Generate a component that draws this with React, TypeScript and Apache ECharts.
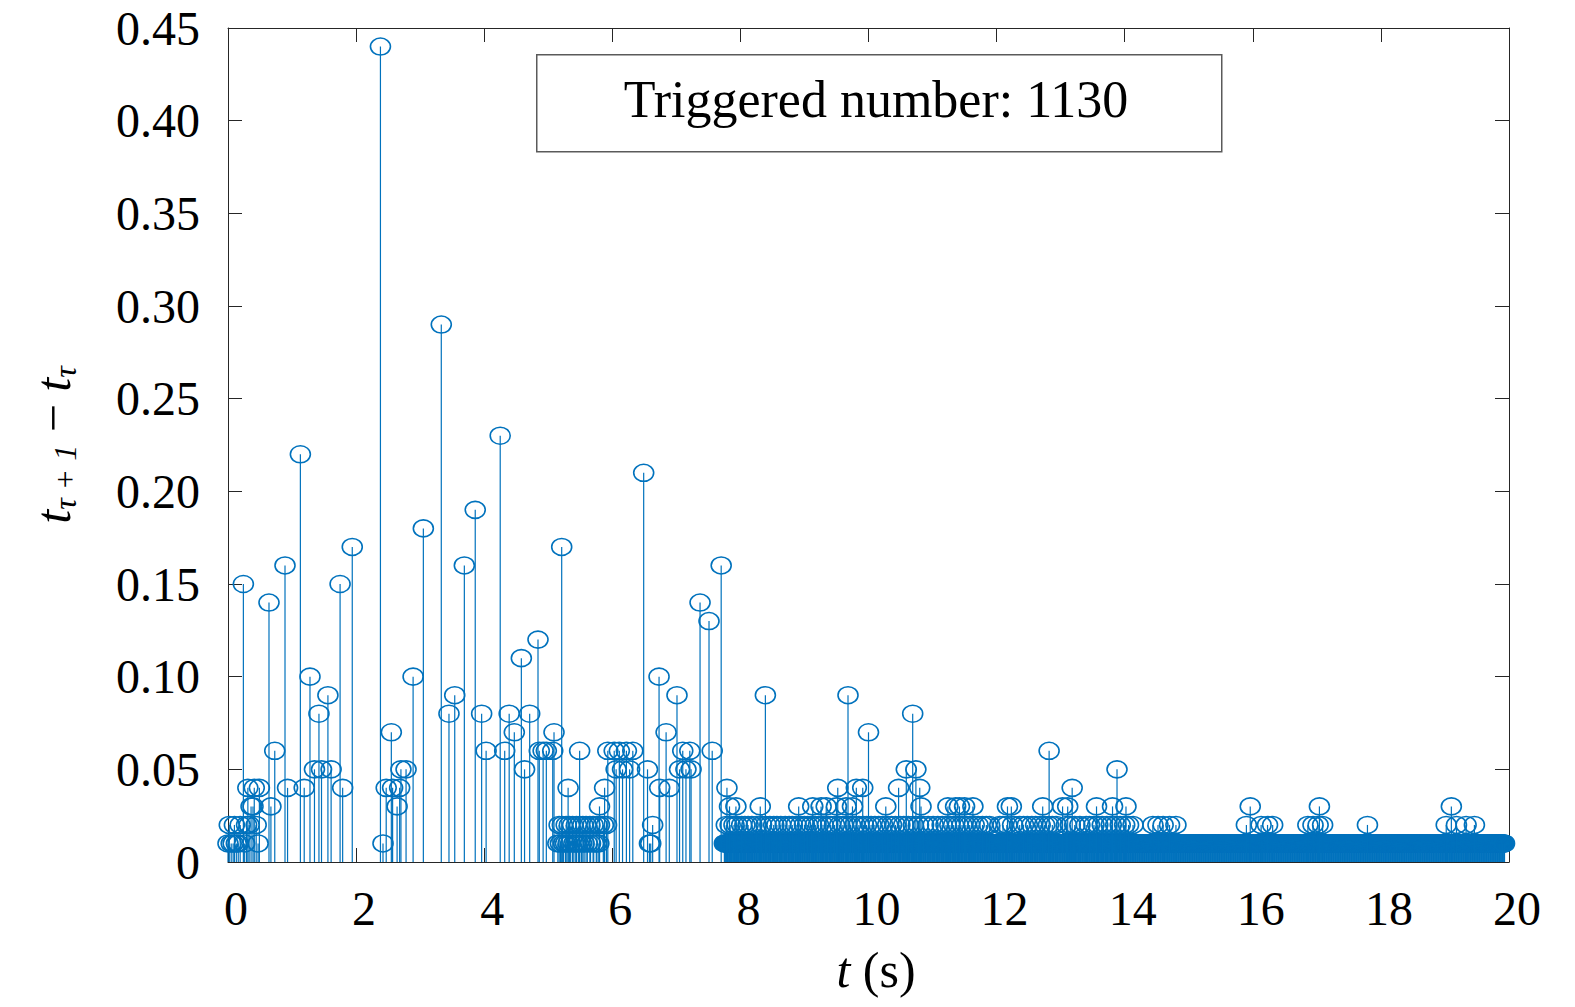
import { useEffect, useRef } from 'react';
import * as echarts from 'echarts';

const SERIF = '"Liberation Serif", "Times New Roman", serif';
const BLUE = '#0072BD';
const INK = '#262626';

/* ───── Data ───── */
// sparse stems: trigger time t (s) and interval t_{τ+1} - t_τ (s)
const stemT = [
  0.00, 0.02, 0.05, 0.08, 0.10, 0.13, 0.16, 0.19, 0.24, 0.26, 0.29, 0.31, 0.33, 0.36, 0.39, 0.41, 0.44, 0.47, 0.49,
  0.64, 0.67, 0.73, 0.89, 0.93, 1.13, 1.19, 1.28, 1.35, 1.42, 1.46, 1.56, 1.61, 1.75, 1.79, 1.94,
  2.38, 2.42, 2.47, 2.55, 2.57, 2.64, 2.68, 2.70, 2.78, 2.89, 3.05, 3.33, 3.45, 3.54, 3.69, 3.86, 3.96,
  4.03, 4.25, 4.32, 4.39, 4.47, 4.58, 4.63, 4.71, 4.84, 4.86, 4.92, 4.97, 5.07, 5.09, 5.21, 5.31, 5.49,
  5.80, 5.88, 5.93, 6.03, 6.06, 6.11, 6.16, 6.22, 6.27, 6.32, 6.49, 6.55, 6.58, 6.60, 6.63, 6.73, 6.74,
  6.84, 6.89, 7.01, 7.05, 7.10, 7.15, 7.21, 7.23, 7.37, 7.51, 7.56, 7.70, 7.79, 7.83, 7.93,
  8.31, 8.39, 8.91, 9.13, 9.26, 9.34, 9.50, 9.52, 9.65, 9.68, 9.75, 9.81, 9.91, 10.00, 10.27, 10.47,
  10.59, 10.69, 10.74, 10.80, 10.82, 11.24, 11.36, 11.42, 11.50, 11.63, 12.17, 12.23, 12.72, 12.82,
  13.03, 13.11, 13.18, 13.56, 13.81, 13.88, 14.02, 15.96, 17.04, 19.10,
];
const stemV = [
  0.01, 0.02, 0.01, 0.01, 0.02, 0.01, 0.01, 0.02, 0.15, 0.01, 0.02, 0.04, 0.02, 0.03, 0.03, 0.04, 0.02, 0.01, 0.04,
  0.14, 0.03, 0.06, 0.16, 0.04, 0.22, 0.04, 0.10, 0.05, 0.08, 0.05, 0.09, 0.05, 0.15, 0.04, 0.17,
  0.44, 0.01, 0.04, 0.07, 0.04, 0.03, 0.04, 0.05, 0.05, 0.10, 0.18, 0.29, 0.08, 0.09, 0.16, 0.19, 0.08,
  0.06, 0.23, 0.06, 0.08, 0.07, 0.11, 0.05, 0.08, 0.12, 0.06, 0.06, 0.06, 0.06, 0.07, 0.17, 0.04, 0.06,
  0.03, 0.04, 0.06, 0.06, 0.05, 0.06, 0.05, 0.06, 0.05, 0.06, 0.21, 0.05, 0.01, 0.01, 0.02, 0.10, 0.04,
  0.07, 0.04, 0.09, 0.05, 0.06, 0.05, 0.06, 0.05, 0.14, 0.13, 0.06, 0.16, 0.04, 0.03, 0.03,
  0.03, 0.09, 0.03, 0.03, 0.03, 0.03, 0.03, 0.04, 0.03, 0.09, 0.03, 0.04, 0.04, 0.07, 0.03, 0.04,
  0.05, 0.08, 0.05, 0.04, 0.03, 0.03, 0.03, 0.03, 0.03, 0.03, 0.03, 0.03, 0.03, 0.06,
  0.03, 0.03, 0.04, 0.03, 0.03, 0.05, 0.03, 0.03, 0.03, 0.03,
];

// triggers with a 0.02 s interval
const t002 = [
  5.17, 5.22, 5.28, 5.33, 5.38, 5.44, 5.49, 5.54, 5.59, 5.65, 5.70, 5.76, 5.80, 5.86, 5.91,
  7.78, 7.84, 7.90, 7.95, 8.02, 8.07, 8.12, 8.18, 8.25, 8.33, 8.40, 8.46, 8.52, 8.57, 8.63, 8.70,
  8.76, 8.81, 8.87, 8.94, 9.00, 9.05, 9.11, 9.17, 9.22, 9.29, 9.36, 9.41, 9.47, 9.55, 9.60, 9.66,
  9.72, 9.79, 9.85, 9.92, 9.97, 10.04, 10.10, 10.16, 10.22, 10.30, 10.36, 10.42, 10.49, 10.55, 10.62,
  10.70, 10.78, 10.86, 10.93, 11.01, 11.08, 11.15, 11.21, 11.27, 11.33, 11.40, 11.46, 11.52, 11.58,
  11.65, 11.71, 11.78, 11.84, 11.89, 12.05, 12.10, 12.16, 12.25, 12.36, 12.42, 12.48, 12.55, 12.61,
  12.68, 12.75, 12.81, 12.87, 12.93, 13.09, 13.15, 13.22, 13.30, 13.40, 13.45, 13.52, 13.58, 13.65,
  13.72, 13.79, 13.86, 13.93, 14.00, 14.06, 14.13, 14.44, 14.52, 14.60, 14.70, 14.80,
  15.90, 16.13, 16.23, 16.31, 16.86, 16.94, 17.02, 17.09, 17.79, 19.02, 19.18, 19.33, 19.46,
];

// triggers with a 0.01 s interval in the 5.2–5.8 s cluster
const t001 = [
  5.15, 5.19, 5.24, 5.27, 5.31, 5.35, 5.40, 5.43, 5.47, 5.52, 5.56, 5.61, 5.66, 5.71, 5.75, 5.79,
];

// continuous runs of 0.01 s intervals (the solid band)
const runStart = [7.75];
const runEnd = [19.93];
const runGap = [0.01];

export default function App() {
  const ref = useRef<HTMLDivElement>(null);

  useEffect(() => {
    if (!ref.current) return;
    const chart = echarts.init(ref.current, undefined, { renderer: 'svg' });

    const points: [number, number][] = [];
    runStart.forEach((s, i) => {
      const n = Math.round((runEnd[i] - s) / runGap[i]);
      for (let k = 0; k <= n; k++) points.push([+(s + k * runGap[i]).toFixed(2), runGap[i]]);
    });
    t001.forEach(t => points.push([t, 0.01]));
    t002.forEach(t => points.push([t, 0.02]));
    stemT.forEach((t, i) => points.push([t, stemV[i]]));

    const axisCommon = {
      axisLine: { show: true, onZero: false, lineStyle: { color: INK, width: 1 } },
      axisTick: { show: true, inside: true, length: 14, lineStyle: { color: INK, width: 1 } },
      splitLine: { show: false },
    };

    chart.setOption({
      animation: false,
      grid: { left: 228, right: 66, top: 28, bottom: 145, containLabel: false },
      xAxis: [
        {
          type: 'value', min: 0, max: 20, interval: 2, position: 'bottom', ...axisCommon,
          axisLabel: { fontFamily: SERIF, fontSize: 48, color: '#000', margin: 22, padding: [0, 0, 0, 16] },
        },
        {
          type: 'value', min: 0, max: 20, interval: 2, position: 'top', ...axisCommon,
          axisLabel: { show: false },
        },
      ],
      yAxis: [
        {
          type: 'value', min: 0, max: 0.45, interval: 0.05, position: 'left', ...axisCommon,
          axisLabel: {
            fontFamily: SERIF, fontSize: 48, color: '#000', margin: 28,
            formatter: (v: number) => (v === 0 ? '0' : v.toFixed(2)),
          },
        },
        {
          type: 'value', min: 0, max: 0.45, interval: 0.05, position: 'right', ...axisCommon,
          axisLabel: { show: false },
        },
      ],
      series: [
        {
          type: 'custom',
          clip: false,
          data: points,
          renderItem: (_params: any, api: any) => {
            const top = api.coord([api.value(0), api.value(1)]);
            const base = api.coord([api.value(0), 0]);
            return {
              type: 'group',
              children: [
                { type: 'line', shape: { x1: top[0], y1: base[1], x2: top[0], y2: top[1] }, style: { stroke: BLUE, lineWidth: 1.2 } },
                { type: 'ellipse', shape: { cx: top[0], cy: top[1], rx: 10, ry: 8.5 }, style: { fill: 'none', stroke: BLUE, lineWidth: 1.6 } },
              ],
            };
          },
        },
      ],
      graphic: [
        {
          type: 'rect', left: 536, top: 54, z: 10,
          shape: { width: 685, height: 97 },
          style: { fill: '#fff', stroke: '#5a5a5a', lineWidth: 1.5 },
        },
        {
          type: 'text', x: 876, y: 99, z: 11,
          style: { text: 'Triggered number: 1130', font: `52px ${SERIF}`, fill: '#000', align: 'center', verticalAlign: 'middle' },
        },
        {
          type: 'text', x: 876, y: 970,
          style: {
            text: '{i|t} (s)', align: 'center', verticalAlign: 'middle',
            font: `50px ${SERIF}`, fill: '#000',
            rich: { i: { fontFamily: SERIF, fontSize: 50, fontStyle: 'italic' } },
          },
        },
        {
          type: 'text', x: 53, y: 445, rotation: Math.PI / 2,
          style: {
            text: '{i|t}{s|τ + 1}{n| − }{i|t}{s|τ}', align: 'center', verticalAlign: 'middle',
            font: `50px ${SERIF}`, fill: '#000',
            rich: {
              i: { fontFamily: SERIF, fontSize: 50, fontStyle: 'italic', lineHeight: 56 },
              n: { fontFamily: SERIF, fontSize: 50, lineHeight: 56 },
              s: { fontFamily: SERIF, fontSize: 32, fontStyle: 'italic', lineHeight: 32, verticalAlign: 'bottom' },
            },
          },
        },
      ],
    });

    return () => { chart.dispose(); };
  }, []);

  return <div ref={ref} style={{ position: 'absolute', left: 0, top: 0, width: 1575, height: 1007, background: '#fff' }} />;
}
